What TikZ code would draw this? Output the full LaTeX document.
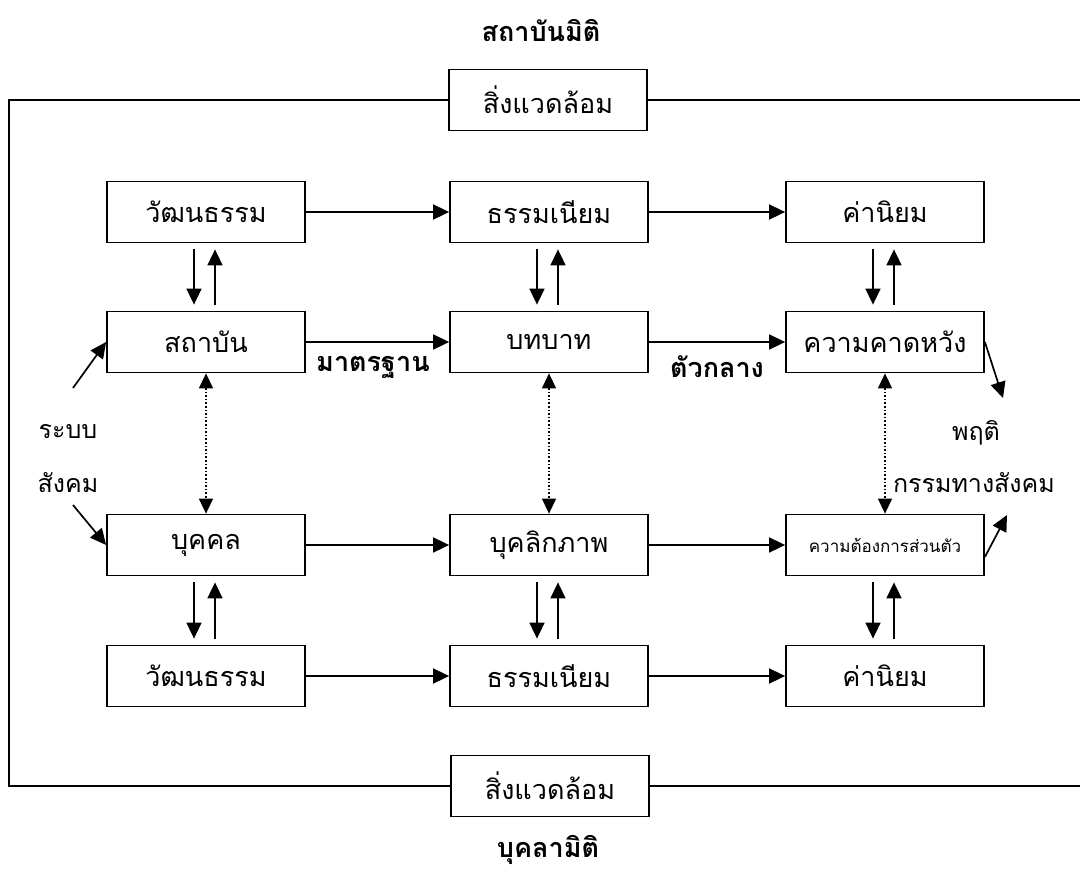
\documentclass[tikz,border=0pt]{standalone}
\usepackage{fontspec}
\setmainfont[Script=Thai]{Loma}
\usetikzlibrary{arrows.meta,positioning}

\tikzset{
  box/.style={draw, line width=1.8pt, minimum width=198pt, minimum height=61pt,
    font=\fontsize{27}{30}\selectfont},
  arr/.style={line width=1.7pt, -{Triangle[length=16pt,width=15pt]}},
  dotarr/.style={line width=1.6pt, dotted,
    {Triangle[length=15pt,width=14pt]}-{Triangle[length=15pt,width=14pt]}},
  lbl/.style={font=\fontsize{25}{28}\selectfont},
  bold/.style={font=\fontsize{27}{30}\selectfont\bfseries},
}

\begin{document}
\begin{tikzpicture}[x=1pt, y=-1pt]
  \useasboundingbox (0,0) rectangle (1080,878);

  % Column and row positions
  \def\cA{206} \def\cB{549} \def\cC{885}
  \def\rA{212} \def\rB{342} \def\rC{545} \def\rD{676}

  % Titles
  \node[bold] (titleTop) at (541,30) {สถาบันมิติ};
  \node[bold] (titleBot) at (548,850) {บุคลามิติ};

  % Environment boxes and the open frame
  \node[box] (envTop) at (548,100) {สิ่งแวดล้อม};
  \node[box] (envBot) at (550,786) {สิ่งแวดล้อม};
  \coordinate (frameTL) at (9,100);
  \coordinate (frameBL) at (9,786);
  \coordinate (frameTR) at (1080,100);
  \coordinate (frameBR) at (1080,786);
  \draw[line width=1.8pt] (envTop.west) -- (frameTL) -- (frameBL) -- (envBot.west);
  \draw[line width=1.8pt] (envTop.east) -- (frameTR);
  \draw[line width=1.8pt] (envBot.east) -- (frameBR);

  % Institution row
  \node[box] (cultTop) at (\cA,\rA) {วัฒนธรรม};
  \node[box] (custTop) at (\cB,\rA) {ธรรมเนียม};
  \node[box] (valTop)  at (\cC,\rA) {ค่านิยม};
  \node[box] (inst)    at (\cA,\rB) {สถาบัน};
  \node[box] (role)    at (\cB,\rB) {บทบาท};
  \node[box] (expect)  at (\cC,\rB) {ความคาดหวัง};

  % Individual row
  \node[box] (pers)    at (\cA,\rC) {บุคคล};
  \node[box] (persona) at (\cB,\rC) {บุคลิกภาพ};
  \node[box, font=\fontsize{17}{20}\selectfont] (need) at (\cC,\rC) {ความต้องการส่วนตัว};
  \node[box] (cultBot) at (\cA,\rD) {วัฒนธรรม};
  \node[box] (custBot) at (\cB,\rD) {ธรรมเนียม};
  \node[box] (valBot)  at (\cC,\rD) {ค่านิยม};

  % Arrows along the rows
  \foreach \a/\b in {cultTop/custTop, custTop/valTop, inst/role, role/expect,
                     pers/persona, persona/need, cultBot/custBot, custBot/valBot}
    \draw[arr] (\a) -- (\b);

  % Down and up arrows between rows
  \foreach \a/\b in {cultTop/inst, custTop/role, valTop/expect,
                     pers/cultBot, persona/custBot, need/valBot} {
    \draw[arr] ([xshift=-12pt,yshift=-6pt]\a.south) -- ([xshift=-12pt,yshift=6pt]\b.north);
    \draw[arr] ([xshift=9pt,yshift=6pt]\b.north) -- ([xshift=9pt,yshift=-6pt]\a.south);
  }

  % Dotted links between the two dimensions
  \foreach \a/\b in {inst/pers, role/persona, expect/need}
    \draw[dotarr] (\a.south) -- (\b.north);

  % Labels on the middle arrows
  \node[bold] (std) at (373,367) {มาตรฐาน};
  \node[bold] (mid) at (717,367) {ตัวกลาง};

  % Social system
  \node[lbl] (sysA) at (68,432) {ระบบ};
  \node[lbl] (sysB) at (68,483) {สังคม};
  \coordinate (sysTop) at (73,388);
  \coordinate (sysBot) at (73,505);
  \draw[arr] (sysTop) -- (inst.west);
  \draw[arr] (sysBot) -- (pers.west);

  % Social behaviour
  \node[lbl] (behA) at (976,433) {พฤติ};
  \node[lbl] (behB) at (974,483) {กรรมทางสังคม};
  \coordinate (behTop) at (1003,398);
  \coordinate (behBot) at (1007,515);
  \draw[arr] (expect.east) -- (behTop);
  \draw[arr] ([yshift=-12pt]need.east) -- (behBot);
\end{tikzpicture}
\end{document}
